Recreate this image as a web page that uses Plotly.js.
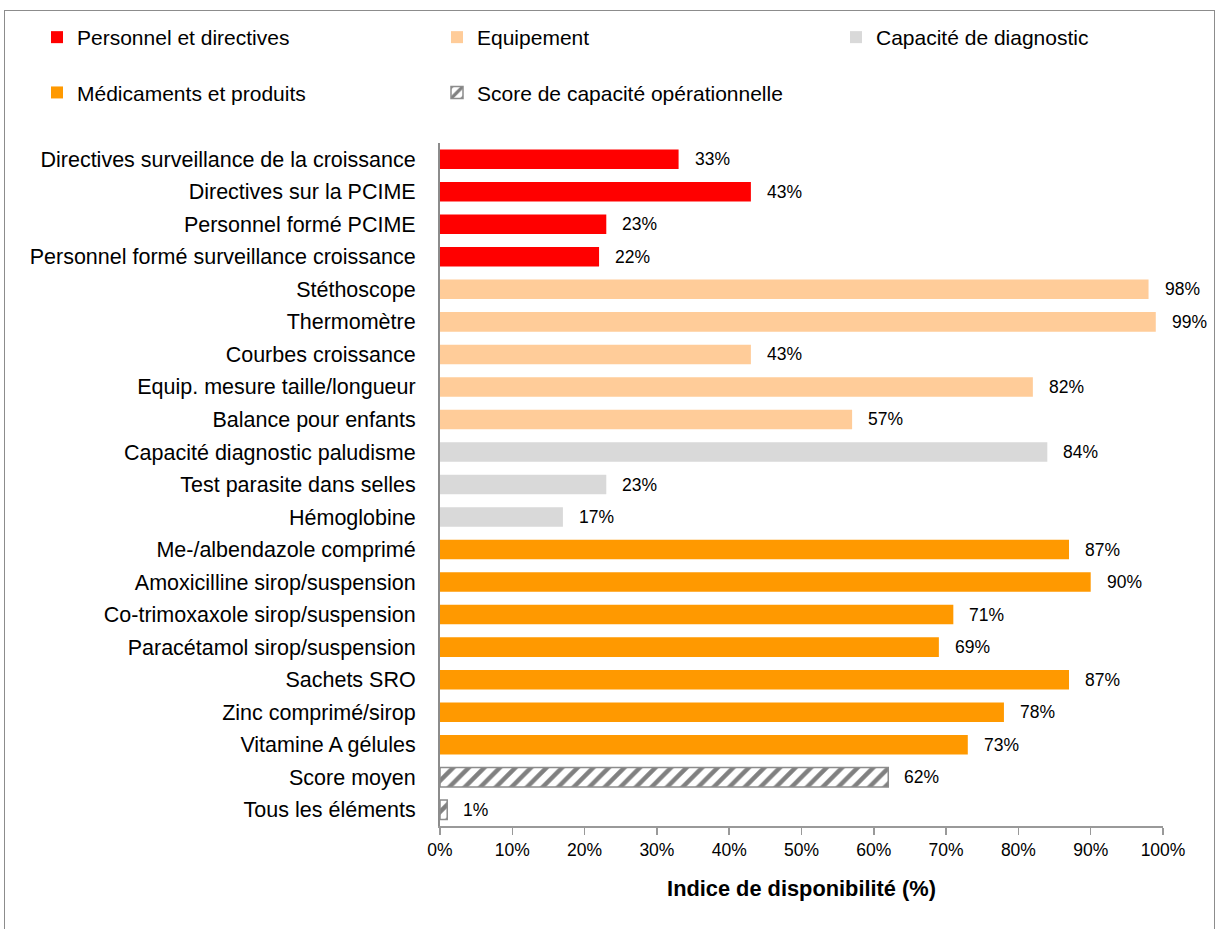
<!DOCTYPE html>
<html>
<head>
<meta charset="utf-8">
<script src="https://cdn.plot.ly/plotly-3.0.1.min.js"></script>
<style>
  html, body { margin: 0; padding: 0; background: #ffffff; }
  #frame { position: absolute; left: 4px; top: 10px; width: 1211px; height: 940px;
           border: 1.5px solid #8c8c8c; border-bottom: none; box-sizing: border-box; }
  #chart { position: absolute; left: 0; top: 0; width: 1222px; height: 929px; }
</style>
</head>
<body>
<div id="frame"></div>
<div id="chart"></div>
<script>
// ---- data ----
const catsPersonnel = ["Directives surveillance de la croissance", "Directives sur la PCIME", "Personnel formé PCIME", "Personnel formé surveillance croissance"];
const valsPersonnel = [33, 43, 23, 22];

const catsEquipement = ["Stéthoscope", "Thermomètre", "Courbes croissance", "Equip. mesure taille/longueur", "Balance pour enfants"];
const valsEquipement = [98, 99, 43, 82, 57];

const catsDiagnostic = ["Capacité diagnostic paludisme", "Test parasite dans selles", "Hémoglobine"];
const valsDiagnostic = [84, 23, 17];

const catsMedicaments = ["Me-/albendazole comprimé", "Amoxicilline sirop/suspension", "Co-trimoxaxole sirop/suspension", "Paracétamol sirop/suspension", "Sachets SRO", "Zinc comprimé/sirop", "Vitamine A gélules"];
const valsMedicaments = [87, 90, 71, 69, 87, 78, 73];

const catsScore = ["Score moyen", "Tous les éléments"];
const valsScore = [62, 1];

const seriesNames = ["Personnel et directives", "Equipement", "Capacité de diagnostic", "Médicaments et produits", "Score de capacité opérationnelle"];
const xTickVals = [0, 10, 20, 30, 40, 50, 60, 70, 80, 90, 100];
const xTickText = ["0%", "10%", "20%", "30%", "40%", "50%", "60%", "70%", "80%", "90%", "100%"];
const xTitle = "Indice de disponibilité (%)";

// ---- build ----
const FONT = "'Liberation Sans', Arial, sans-serif";
const allCats = [].concat(catsPersonnel, catsEquipement, catsDiagnostic, catsMedicaments, catsScore);

function barTrace(name, cats, vals, color, legendId, group) {
  return {
    type: "bar", orientation: "h", name: name,
    x: vals, y: cats, width: 0.6,
    marker: { color: color, line: { width: 0 } },
    legend: legendId, legendgroup: group, hoverinfo: "skip"
  };
}

const traces = [
  barTrace(seriesNames[0], catsPersonnel, valsPersonnel, "#ff0000", "legend", "g1"),
  barTrace(seriesNames[1], catsEquipement, valsEquipement, "#ffcc99", "legend2", "g2"),
  barTrace(seriesNames[2], catsDiagnostic, valsDiagnostic, "#d9d9d9", "legend3", "g3"),
  barTrace(seriesNames[3], catsMedicaments, valsMedicaments, "#ff9900", "legend", "g4"),
  {
    type: "bar", orientation: "h", name: seriesNames[4],
    x: valsScore, y: catsScore, width: 0.6,
    marker: {
      color: "#ffffff",
      line: { color: "#8c8c8c", width: 1.5 },
      pattern: { shape: "/", fgcolor: "#808080", bgcolor: "#ffffff", size: 11, solidity: 0.4 }
    },
    legend: "legend2", legendgroup: "g5", hoverinfo: "skip"
  }
];

const annotations = [];
[[catsPersonnel, valsPersonnel], [catsEquipement, valsEquipement], [catsDiagnostic, valsDiagnostic],
 [catsMedicaments, valsMedicaments], [catsScore, valsScore]].forEach(([cs, vs]) => {
  cs.forEach((c, i) => {
    annotations.push({
      x: vs[i], y: c, xref: "x", yref: "y", text: vs[i] + "%",
      showarrow: false, xanchor: "left", yanchor: "middle", xshift: 14,
      font: { family: FONT, size: 17.5, color: "#000" }
    });
  });
});

const PX = 723;   // plot width in px
const PY = 683;   // plot height in px
const legTop = 17;
const legendCommon = {
  orientation: "v", tracegroupgap: 25,
  xanchor: "left", yanchor: "top",
  y: 1 + (143 - legTop) / PY,
  font: { family: FONT, size: 21, color: "#000" },
  bgcolor: "rgba(0,0,0,0)", traceorder: "grouped"
};

const layout = {
  width: 1222, height: 929,
  margin: { l: 440, r: 59, t: 143, b: 103, autoexpand: false },
  paper_bgcolor: "rgba(0,0,0,0)", plot_bgcolor: "rgba(0,0,0,0)",
  barmode: "overlay", bargap: 0.4,
  font: { family: FONT, color: "#000" },
  showlegend: true,
  legend: Object.assign({}, legendCommon, { x: (37 - 440) / PX }),
  legend2: Object.assign({}, legendCommon, { x: (437 - 440) / PX }),
  legend3: Object.assign({}, legendCommon, { x: (836 - 440) / PX }),
  xaxis: {
    range: [0, 100], tickvals: xTickVals, ticktext: xTickText,
    ticks: "outside", ticklen: 7, tickwidth: 1.5, tickcolor: "#999999",
    showline: true, linecolor: "#999999", linewidth: 1.5,
    showgrid: false, zeroline: false, fixedrange: true,
    tickfont: { family: FONT, size: 17.5, color: "#000" },
    title: { text: xTitle, font: { family: FONT, size: 21.8, color: "#000", weight: "bold" }, standoff: 22 },
    automargin: false
  },
  yaxis: {
    type: "category", categoryorder: "array", categoryarray: allCats,
    autorange: "reversed",
    ticks: "outside", ticklen: 18, tickcolor: "rgba(0,0,0,0)",
    showline: true, linecolor: "#8c8c8c", linewidth: 2,
    showgrid: false, zeroline: false, fixedrange: true,
    tickfont: { family: FONT, size: 21.5, color: "#000" },
    automargin: false
  },
  annotations: annotations
};

Plotly.newPlot("chart", traces, layout, { displayModeBar: false, staticPlot: true });
</script>
</body>
</html>
